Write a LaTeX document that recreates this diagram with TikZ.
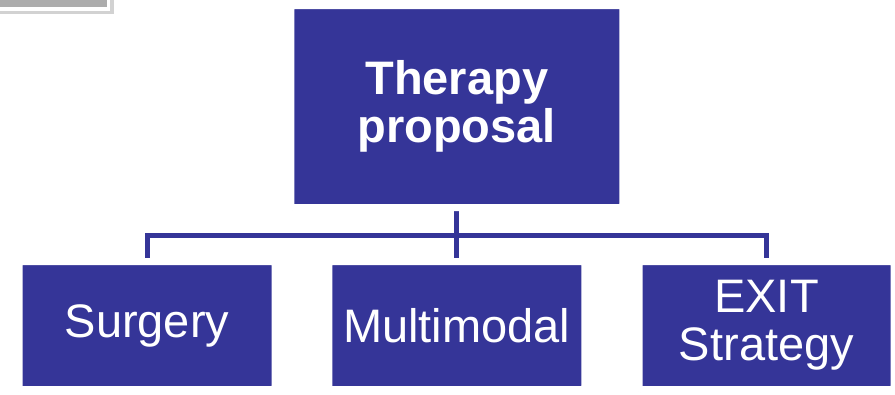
\documentclass[tikz,border=0pt]{standalone}
\usepackage{fontspec}
\setmainfont{Liberation Sans}
\usetikzlibrary{shadows,backgrounds}
\definecolor{boxblue}{RGB}{53,53,152}
\definecolor{tabgray}{RGB}{172,172,172}
\definecolor{tabrim}{RGB}{210,210,210}

\tikzset{
	topic/.style={fill=boxblue, draw=white, line width=7pt, rounded corners=3pt,
		text=white, align=center, inner sep=0pt, font=\fontsize{47}{48}\selectfont,
		drop shadow={shadow xshift=-1.5pt, shadow yshift=-2.5pt, opacity=.3}},
	link/.style={draw=boxblue, line width=5pt}
}

\begin{document}
\begin{tikzpicture}[x=1pt,y=-1pt]
	\useasboundingbox (0,0) rectangle (895,394);
	% corner tab
	\fill[tabrim] (0,0) rectangle (114,14);
	\fill[white] (0,0) rectangle (110,11);
	\fill[tabgray] (0,0) rectangle (107,7);
	% boxes
	\node[topic, minimum width=332pt, minimum height=202pt, font=\fontsize{47}{48}\selectfont\bfseries]
		(therapy) at (456.75,106.5) {Therapy\\proposal};
	\node[topic, minimum width=256pt, minimum height=128pt] (surgery) at (147,325.5) {Surgery};
	\node[topic, minimum width=256pt, minimum height=128pt] (multimodal) at (456.75,325.5) {Multimodal};
	\node[topic, minimum width=255pt, minimum height=128pt] (exit) at (766.5,325.5) {EXIT\\Strategy};
	% connectors
	\coordinate (bus) at (456.75,235);
	\begin{scope}[on background layer]
		\fill[white] (0,0) rectangle (895,394);
		\draw[link] (therapy.south) -- (multimodal.north);
		\draw[link] (surgery.north) |- (bus) -| (exit.north);
	\end{scope}
\end{tikzpicture}
\end{document}
